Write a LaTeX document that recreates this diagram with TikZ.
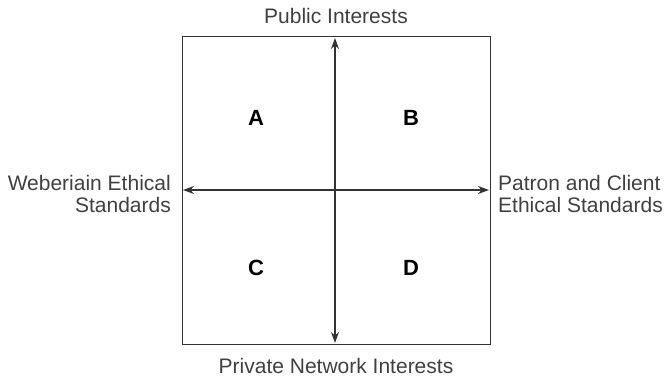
\documentclass[tikz,border=0pt]{standalone}
\usepackage{fontspec}
\setmainfont{Liberation Sans}
\usetikzlibrary{arrows.meta}
\begin{document}
\begin{tikzpicture}[x=1pt,y=-1pt,
  lbl/.style={font=\fontsize{21}{22}\selectfont, text=black!75, inner sep=0pt},
  quad/.style={font=\fontsize{22}{24}\selectfont\bfseries, inner sep=0pt},
  axis/.style={draw=black!80, line width=1.1pt, -{Stealth[length=11pt,width=8pt]}}]
\useasboundingbox (0,0) rectangle (666,380);
\node[draw=black!80, line width=1pt, minimum width=308pt, minimum height=308pt, inner sep=0pt] (box) at (336,190) {};
\coordinate (top) at (335,38);
\coordinate (bot) at (335,343);
\coordinate (lft) at (183,190);
\coordinate (rgt) at (489,190);
\coordinate (mid) at (335,190);
\draw[axis] (mid) -- (top);
\draw[axis] (mid) -- (bot);
\draw[axis] (mid) -- (lft);
\draw[axis] (mid) -- (rgt);
\node[lbl] (pub) at (336,16) {Public Interests};
\node[lbl] (priv) at (336,366) {Private Network Interests};
\node[lbl, anchor=east, align=right] (web) at (171,194) {Weberiain Ethical\\Standards};
\node[lbl, anchor=west, align=left] (pat) at (498,194) {Patron and Client\\Ethical Standards};
\node[quad] (A) at (256,118) {A};
\node[quad] (B) at (411,118) {B};
\node[quad] (C) at (256,268) {C};
\node[quad] (D) at (411,268) {D};
\end{tikzpicture}
\end{document}
